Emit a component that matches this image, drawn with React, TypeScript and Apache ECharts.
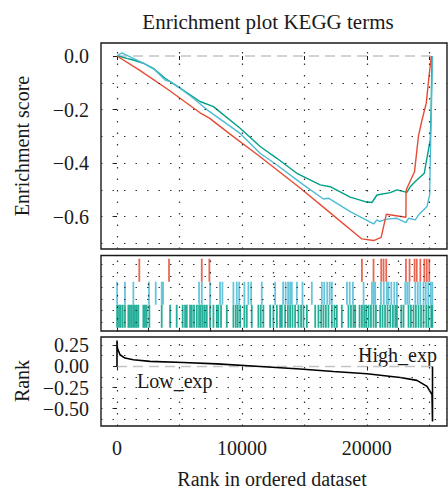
import React, { useEffect, useRef } from "react";
import * as echarts from "echarts";

// ---------- data ----------
const titleText = "Enrichment plot KEGG terms";

// running enrichment score curves: [rank, ES]
const redES: [number, number][] = [
  [0, 0], [1800, -0.053], [4170, -0.128], [6650, -0.212], [7400, -0.232], [9000, -0.29],
  [11460, -0.376], [14660, -0.493], [17000, -0.583], [19600, -0.683], [20550, -0.689],
  [21150, -0.677], [21560, -0.591], [23130, -0.602], [23140, -0.506], [23210, -0.494],
  [23820, -0.432], [24140, -0.297], [24420, -0.239], [24760, -0.176], [24950, -0.09],
  [25160, 0.0],
];
const blueES: [number, number][] = [
  [0, 0], [380, 0.012], [1310, -0.009], [2110, -0.027], [3040, -0.052], [3850, -0.09],
  [4250, -0.096], [5050, -0.12], [6110, -0.158], [7190, -0.2], [9860, -0.289], [11460, -0.363],
  [12800, -0.407], [14930, -0.481], [16530, -0.534], [16930, -0.531], [18670, -0.581],
  [20540, -0.627], [20810, -0.612], [21000, -0.618], [21610, -0.609], [22410, -0.606],
  [23130, -0.622], [23340, -0.606], [23880, -0.612], [24150, -0.593], [24820, -0.562],
  [25030, -0.519], [25080, -0.388], [25260, 0.0],
];
const greenES: [number, number][] = [
  [0, 0], [240, -0.002], [780, -0.009], [1310, -0.015], [2110, -0.027], [2910, -0.046],
  [3850, -0.083], [5050, -0.12], [6650, -0.17], [7720, -0.189], [9860, -0.27], [11460, -0.338],
  [12800, -0.382], [14400, -0.438], [16270, -0.481], [17070, -0.488], [18670, -0.527],
  [19870, -0.544], [20410, -0.547], [20810, -0.519], [21880, -0.51], [22410, -0.5],
  [23210, -0.509], [23480, -0.488], [23880, -0.469], [24600, -0.438], [24740, -0.4],
  [25080, -0.313], [25150, -0.2], [25220, 0.0],
];

// hit positions (rank) for each gene set
const redHits: number[] = [
  1787, 4167, 6787, 7396, 19608, 20538, 21154, 21339, 21555, 23134, 23423, 23824, 24000,
  24284, 24605, 24800, 25000,
];
const blueHits: number[] = [
  10, 640, 1310, 2560, 3100, 3580, 3690, 6570, 6790, 7450, 8250, 8440, 9320, 9590, 9780,
  10200, 10520, 10740, 11590, 12660, 13300, 13500, 13700, 13860, 14000, 14400, 14850, 15600,
  16400, 16590, 16830, 17030, 17200, 18410, 18630, 18890, 19740, 20410, 20550, 20670, 21130,
  21360, 21610, 21740, 21960, 22200, 22410, 23080, 23240, 23400, 23880, 24080, 24280, 24540,
  24720, 24920, 25120, 25250,
];
const greenHits: number[] = [
  10, 160, 300, 460, 640, 910, 1040, 1180, 1310, 1440, 1580, 1710, 2110, 2240, 2380, 2590,
  3580, 4250, 4780, 5260, 5450, 5590, 5850, 5990, 6170, 6390, 6570, 6710, 6870, 7030, 7190,
  7450, 7720, 7990, 8120, 8330, 8790, 9320, 9510, 9670, 9860, 10200, 10390, 10790, 11320,
  11510, 11720, 12260, 12520, 12800, 13060, 13200, 13460, 13680, 13860, 14050, 14260, 14530,
  14740, 14930, 15200, 15870, 16130, 16350, 16530, 16720, 16930, 17200, 17410, 17600, 18000,
  18530, 18730, 18930, 19070, 19420, 19610, 19790, 19950, 20140, 20330, 20540, 20730, 21070,
  21260, 21460, 21660, 21880, 22090, 22280, 22410, 22760, 22940, 23340, 23530, 23740, 23930,
  24140, 24340, 24540, 24760, 24940, 25160, 25250,
];

// ranked list metric: [rank, value]
const rankMetric: [number, number][] = [
  [0, 0], [0, 0.307], [30, 0.217], [240, 0.138], [640, 0.099], [1310, 0.079], [2640, 0.06],
  [5310, 0.047], [8000, 0.03], [11460, 0.0], [14660, -0.031], [17330, -0.059], [20010, -0.086],
  [22680, -0.13], [24010, -0.165], [24820, -0.236], [25220, -0.334], [25260, -0.65], [25260, 0],
];
const zeroLine: [number, number][] = [[0, 0], [25260, 0]];

// axis ticks / grid values
const xLabelTicks = [0, 10000, 20000];
const xGridMajor = [0, 5000, 10000, 15000, 20000, 25000];
const xGridMiddle = [0, 2500, 5000, 7500, 10000, 12500, 15000, 17500, 20000, 22500, 25000];
const esTicks = [0, -0.2, -0.4, -0.6];
const esGrid = [-0.1, -0.2, -0.3, -0.4, -0.5, -0.6, -0.7];
const hitRowGrid = [0.25, 0.75, 1.25, 1.75, 2.25, 2.75];
const rankTicks = [0.25, 0, -0.25, -0.5];
const rankGrid = [0.25, 0.125, -0.125, -0.25, -0.375, -0.5, -0.625];

const RED = "#E64B35";
const BLUE = "#4DBBD5";
const GREEN = "#00A087";
const FONT = "'Liberation Serif', 'DejaVu Serif', serif";
const INK = "#1a1a1a";

const fmt = (d: number) => (v: number) => {
  const s = Math.abs(v).toFixed(d);
  return v < -1e-9 ? "\u2212" + s : s;
};

const dotted = { type: [1.5, 10] as any, color: "#333", width: 1.2 };

function gridSeries(idx: number, xs: number[], ys: number[]) {
  return {
    type: "line",
    xAxisIndex: idx,
    yAxisIndex: idx,
    data: [],
    silent: true,
    z: 1,
    markLine: {
      silent: true,
      symbol: "none",
      animation: false,
      label: { show: false },
      lineStyle: dotted,
      emphasis: { disabled: true },
      data: [...xs.map((x) => ({ xAxis: x })), ...ys.map((y) => ({ yAxis: y }))],
    },
  };
}

function hitSeries(hits: number[], row: number, color: string) {
  return {
    type: "custom",
    xAxisIndex: 1,
    yAxisIndex: 1,
    z: 3,
    data: hits.map((h) => [h, row]),
    renderItem: (_p: any, api: any) => {
      const b = api.coord([api.value(0), api.value(1)]);
      const t = api.coord([api.value(0), api.value(1) + 1]);
      return {
        type: "rect",
        shape: { x: b[0] - 0.9, y: t[1], width: 1.8, height: b[1] - t[1] },
        style: { fill: color, opacity: 0.85 },
      };
    },
  };
}

export default function App() {
  const ref = useRef<HTMLDivElement>(null);
  useEffect(() => {
    if (!ref.current) return;
    const chart = echarts.init(ref.current, null, { renderer: "svg" });
    const xMin = -1280;
    const xMax = 26420;
    const gridBase = {
      left: 101,
      width: 346,
      show: true,
      borderColor: INK,
      borderWidth: 1.4,
      backgroundColor: "transparent",
      containLabel: false,
    };
    const xAxisBase = (i: number) => ({
      type: "value",
      gridIndex: i,
      min: xMin,
      max: xMax,
      axisLine: { show: false },
      splitLine: { show: false },
    });
    chart.setOption({
      animation: false,
      textStyle: { fontFamily: FONT },
      grid: [
        { ...gridBase, top: 43, height: 206 },
        { ...gridBase, top: 255.5, height: 75.5 },
        { ...gridBase, top: 337, height: 89 },
      ],
      xAxis: [
        {
          ...xAxisBase(0),
          axisLabel: { show: false },
          axisTick: { show: true, customValues: xGridMajor, length: 4, lineStyle: { color: INK } },
        },
        {
          ...xAxisBase(1),
          axisLabel: { show: false },
          axisTick: { show: true, customValues: xGridMiddle, length: 4, lineStyle: { color: INK } },
        },
        {
          ...xAxisBase(2),
          axisLabel: {
            show: true,
            customValues: xLabelTicks,
            formatter: (v: number) => String(v),
            fontSize: 20,
            color: INK,
            fontFamily: FONT,
            margin: 12,
          },
          axisTick: { show: true, customValues: xLabelTicks, length: 4, lineStyle: { color: INK } },
        },
      ],
      yAxis: [
        {
          type: "value",
          gridIndex: 0,
          min: -0.7206,
          max: 0.0485,
          axisLine: { show: false },
          splitLine: { show: false },
          axisLabel: {
            customValues: esTicks,
            formatter: fmt(1),
            fontSize: 20,
            color: INK,
            fontFamily: FONT,
            margin: 12,
          },
          axisTick: { show: true, customValues: esTicks, length: 4, lineStyle: { color: INK } },
        },
        {
          type: "value",
          gridIndex: 1,
          min: -0.14,
          max: 3.14,
          axisLine: { show: false },
          splitLine: { show: false },
          axisLabel: { show: false },
          axisTick: { show: false },
        },
        {
          type: "value",
          gridIndex: 2,
          min: -0.704,
          max: 0.348,
          axisLine: { show: false },
          splitLine: { show: false },
          axisLabel: {
            customValues: rankTicks,
            formatter: fmt(2),
            fontSize: 20,
            color: INK,
            fontFamily: FONT,
            margin: 12,
          },
          axisTick: { show: true, customValues: rankTicks, length: 4, lineStyle: { color: INK } },
        },
      ],
      graphic: [
        {
          type: "text",
          x: 268,
          y: 22,
          style: { text: titleText, font: `21px ${FONT}`, fill: INK, align: "center", verticalAlign: "middle" },
        },
        {
          type: "text",
          x: 22,
          y: 146,
          rotation: Math.PI / 2,
          style: { text: "Enrichment score", font: `20px ${FONT}`, fill: INK, align: "center", verticalAlign: "middle" },
        },
        {
          type: "text",
          x: 22,
          y: 381,
          rotation: Math.PI / 2,
          style: { text: "Rank", font: `20px ${FONT}`, fill: INK, align: "center", verticalAlign: "middle" },
        },
        {
          type: "text",
          x: 272,
          y: 479,
          style: { text: "Rank in ordered dataset", font: `20px ${FONT}`, fill: INK, align: "center", verticalAlign: "middle" },
        },
        {
          type: "text",
          x: 437,
          y: 355,
          style: { text: "High_exp", font: `20px ${FONT}`, fill: INK, align: "right", verticalAlign: "middle" },
        },
        {
          type: "text",
          x: 137,
          y: 381,
          style: { text: "Low_exp", font: `20px ${FONT}`, fill: INK, align: "left", verticalAlign: "middle" },
        },
      ],
      series: [
        gridSeries(0, xGridMajor, esGrid),
        gridSeries(1, xGridMiddle, hitRowGrid),
        gridSeries(2, xGridMajor, rankGrid),
        {
          type: "line",
          xAxisIndex: 0,
          yAxisIndex: 0,
          data: zeroLine,
          symbol: "none",
          z: 2,
          lineStyle: { color: "#c4c4c4", width: 1.4, type: [10, 6] },
        },
        {
          type: "line",
          xAxisIndex: 2,
          yAxisIndex: 2,
          data: zeroLine,
          symbol: "none",
          z: 2,
          lineStyle: { color: "#c4c4c4", width: 1.4, type: [10, 6] },
        },
        ...[
          { d: greenES, c: GREEN },
          { d: blueES, c: BLUE },
          { d: redES, c: RED },
        ].map((s) => ({
          type: "line",
          xAxisIndex: 0,
          yAxisIndex: 0,
          data: s.d,
          symbol: "none",
          z: 3,
          lineStyle: { color: s.c, width: 1.4 },
        })),
        hitSeries(greenHits, 0, GREEN),
        hitSeries(blueHits, 1, BLUE),
        hitSeries(redHits, 2, RED),
        {
          type: "line",
          xAxisIndex: 2,
          yAxisIndex: 2,
          data: rankMetric,
          symbol: "none",
          z: 3,
          lineStyle: { color: "#000", width: 1.6 },
        },
      ],
    });
    return () => chart.dispose();
  }, []);
  return (
    <div
      ref={ref}
      style={{ position: "fixed", left: 0, top: 0, width: 448, height: 491, background: "#fff" }}
    />
  );
}
